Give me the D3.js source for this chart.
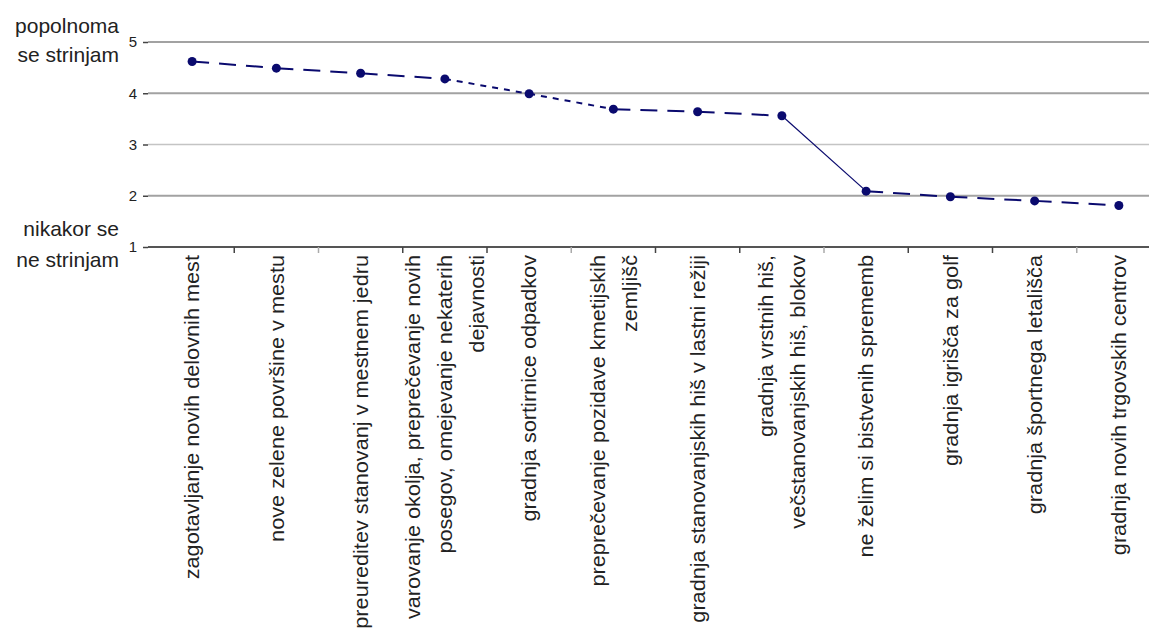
<!DOCTYPE html>
<html>
<head>
<meta charset="utf-8">
<script src="https://cdn.jsdelivr.net/npm/d3@7"></script>
<style>
  html, body { margin: 0; padding: 0; background: #ffffff; }
  svg { display: block; }
  text { font-family: "Liberation Sans", Arial, sans-serif; fill: #222; }
</style>
</head>
<body>
<svg id="chart" width="1149" height="635"></svg>
<script>
// Categories (each entry is the list of wrapped label lines)
const categories = [
  ["zagotavljanje novih delovnih mest"],
  ["nove zelene površine v mestu"],
  ["preureditev stanovanj v mestnem jedru"],
  ["varovanje okolja, preprečevanje novih", "posegov, omejevanje nekaterih", "dejavnosti"],
  ["gradnja sortirnice odpadkov"],
  ["preprečevanje pozidave kmetijskih", "zemljišč"],
  ["gradnja stanovanjskih hiš v lastni režiji"],
  ["gradnja vrstnih hiš,", "večstanovanjskih hiš, blokov"],
  ["ne želim si bistvenih sprememb"],
  ["gradnja igrišča za golf"],
  ["gradnja športnega letališča"],
  ["gradnja novih trgovskih centrov"]
];

// Mean agreement score per category (1 = disagree, 5 = fully agree)
const scores = [4.62, 4.49, 4.39, 4.28, 3.99, 3.69, 3.64, 3.56, 2.09, 1.98, 1.90, 1.81];

// Y axis ticks and end-of-scale captions
const yTicks = [1, 2, 3, 4, 5];
const topCaption = ["popolnoma", "se strinjam"];
const bottomCaption = ["nikakor se", "ne strinjam"];

const svg = d3.select("#chart");

const x = d3.scaleBand()
  .domain(d3.range(categories.length))
  .range([150, 1161])
  .paddingInner(0)
  .paddingOuter(0);

const y = d3.scaleLinear()
  .domain([1, 5])
  .range([247, 42]);

const xLeft = 148, xRight = 1149;

// Horizontal gridlines
svg.append("g")
  .selectAll("line")
  .data(yTicks.filter(v => v > 1))
  .join("line")
  .attr("x1", xLeft).attr("x2", xRight)
  .attr("y1", d => y(d)).attr("y2", d => y(d))
  .attr("stroke", d => d === 3 ? "#c4c4c4" : "#a2a2a2")
  .attr("stroke-width", d => d === 3 ? 1.5 : 2);

// Y axis (tick marks and numbers only)
const yAxis = d3.axisLeft(y)
  .tickValues(yTicks)
  .tickFormat(d3.format("d"))
  .tickSize(5)
  .tickPadding(6);

const gy = svg.append("g")
  .attr("transform", `translate(${xLeft},0)`)
  .call(yAxis);
gy.select(".domain").remove();
gy.selectAll(".tick line").attr("stroke", "#444").attr("stroke-width", 1.5);
gy.selectAll(".tick text")
  .style("font-family", "'Liberation Sans', Arial, sans-serif")
  .style("font-size", "15px")
  .attr("fill", d => (d === 5 || d === 3) ? "#777" : "#333");

// Category axis line with boundary ticks
svg.append("line")
  .attr("x1", xLeft).attr("x2", xRight)
  .attr("y1", y(1)).attr("y2", y(1))
  .attr("stroke", "#555").attr("stroke-width", 2);

const boundaries = d3.range(1, categories.length).map(i => x(i));
svg.append("g")
  .selectAll("line")
  .data(boundaries)
  .join("line")
  .attr("x1", d => d).attr("x2", d => d)
  .attr("y1", y(1)).attr("y2", y(1) + 6)
  .attr("stroke", (d, i) => (i % 3 === 1) ? "#aaa" : "#444")
  .attr("stroke-width", 1.5);

// Rotated category labels, read bottom-to-top, ending just below the axis
const lineGap = 32;
const labelTop = 255;
const labelGroups = svg.append("g")
  .selectAll("g")
  .data(categories)
  .join("g")
  .attr("transform", (d, i) => `translate(${x(i) + x.bandwidth() / 2},${labelTop})`);

labelGroups.selectAll("text")
  .data(d => d.map((line, j) => ({ line, off: (j - (d.length - 1) / 2) * lineGap })))
  .join("text")
  .attr("transform", d => `translate(${d.off},0) rotate(-90) scale(1,0.94)`)
  .attr("text-anchor", "end")
  .attr("dy", "0.35em")
  .style("font-size", "21.7px")
  .attr("fill", "#2a2a2a")
  .text(d => d.line);

// Line segments between consecutive points, each with its own stroke style
const segStyles = [
  { dash: "17,10", w: 2 },
  { dash: "17,10", w: 2 },
  { dash: "17,10", w: 2 },
  { dash: "6,6", w: 2 },
  { dash: "6,6", w: 2 },
  { dash: "17,10", w: 2 },
  { dash: "17,10", w: 2 },
  { dash: null, w: 1.2 },
  { dash: "17,10", w: 2 },
  { dash: "17,10", w: 2 },
  { dash: "17,10", w: 2 }
];

const cx = i => x(i) + x.bandwidth() / 2;
const segs = d3.range(scores.length - 1).map(i => ({
  x1: cx(i), y1: y(scores[i]), x2: cx(i + 1), y2: y(scores[i + 1]), s: segStyles[i]
}));

svg.append("g")
  .selectAll("line")
  .data(segs)
  .join("line")
  .attr("x1", d => d.x1).attr("y1", d => d.y1)
  .attr("x2", d => d.x2).attr("y2", d => d.y2)
  .attr("stroke", "#0a0a6e")
  .attr("stroke-width", d => d.s.w)
  .attr("stroke-dasharray", d => d.s.dash);

// Point markers
svg.append("g")
  .selectAll("circle")
  .data(scores)
  .join("circle")
  .attr("cx", (d, i) => cx(i))
  .attr("cy", d => y(d))
  .attr("r", 4.5)
  .attr("fill", "#0a0a6e");

// End-of-scale captions on the left
const capStyle = sel => sel
  .attr("text-anchor", "end")
  .style("font-size", "21px")
  .attr("fill", "#222");

svg.append("g").selectAll("text")
  .data(topCaption)
  .join("text")
  .attr("x", 119)
  .attr("y", (d, i) => 33 + i * 29)
  .call(capStyle)
  .text(d => d);

svg.append("g").selectAll("text")
  .data(bottomCaption)
  .join("text")
  .attr("x", 119)
  .attr("y", (d, i) => 236 + i * 31)
  .call(capStyle)
  .text(d => d);
</script>
</body>
</html>
